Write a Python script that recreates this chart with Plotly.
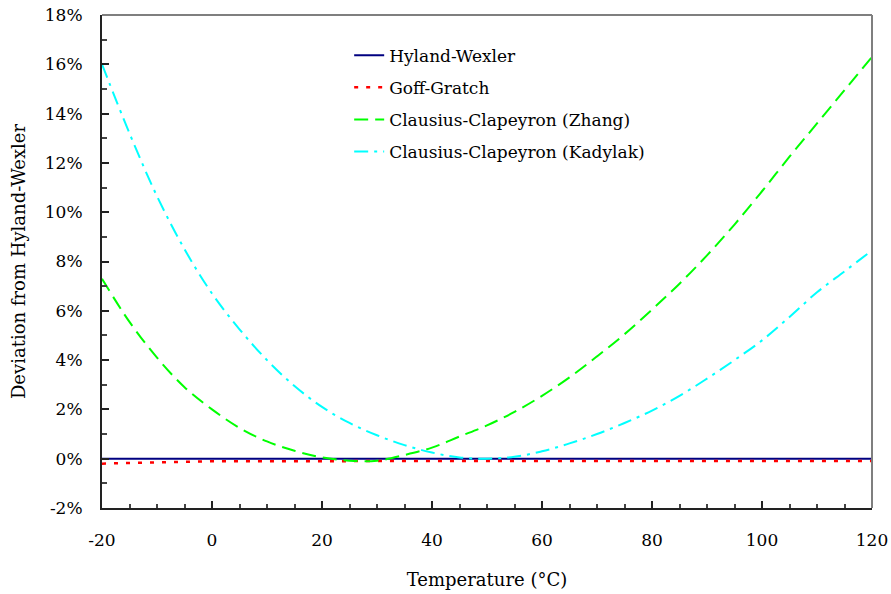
import plotly.graph_objects as go

temps = [-20, -15, -10, -5, 0, 5, 10, 15, 20, 25, 30, 35, 40, 45, 50, 55, 60,
         65, 70, 75, 80, 85, 90, 95, 100, 105, 110, 115, 120]

hyland_wexler = [0.0] * len(temps)

goff_gratch = [-0.20, -0.17, -0.14, -0.11, -0.10, -0.10, -0.10, -0.10, -0.10,
               -0.10, -0.10, -0.10, -0.10, -0.10, -0.10, -0.10, -0.10, -0.10,
               -0.10, -0.10, -0.10, -0.10, -0.10, -0.10, -0.10, -0.10, -0.10,
               -0.10, -0.09]

cc_zhang = [7.3, 5.55, 4.1, 2.9, 2.0, 1.25, 0.7, 0.32, 0.05, -0.08, -0.08,
            0.15, 0.45, 0.9, 1.35, 1.9, 2.55, 3.3, 4.15, 5.05, 6.05, 7.1,
            8.25, 9.5, 10.85, 12.25, 13.6, 14.95, 16.3]

cc_kadylak = [16.0, 13.2, 10.65, 8.5, 6.7, 5.25, 4.0, 2.95, 2.1, 1.45, 0.95,
              0.55, 0.25, 0.05, 0.0, 0.08, 0.3, 0.62, 1.0, 1.45, 1.95, 2.55,
              3.25, 4.0, 4.8, 5.75, 6.75, 7.6, 8.45]

x_tick_vals = [-20, 0, 20, 40, 60, 80, 100, 120]
x_tick_text = ["-20", "0", "20", "40", "60", "80", "100", "120"]
y_tick_vals = [-2, 0, 2, 4, 6, 8, 10, 12, 14, 16, 18]
y_tick_text = ["-2%", "0%", "2%", "4%", "6%", "8%", "10%", "12%", "14%", "16%", "18%"]

FONT = "DejaVu Serif"

fig = go.Figure()
fig.add_trace(go.Scatter(x=temps, y=hyland_wexler, mode="lines",
                         name="Hyland-Wexler", legendgroup="a",
                         line=dict(color="#000080", width=2)))
fig.add_trace(go.Scatter(x=temps, y=goff_gratch, mode="lines",
                         name="Goff-Gratch", legendgroup="b",
                         line=dict(color="#ff0000", width=2.5, dash="4px,8px")))
fig.add_trace(go.Scatter(x=temps, y=cc_zhang, mode="lines",
                         name="Clausius-Clapeyron (Zhang)", legendgroup="c",
                         line=dict(color="#00ff00", width=2, dash="14px,7px", shape="spline")))
fig.add_trace(go.Scatter(x=temps, y=cc_kadylak, mode="lines",
                         name="Clausius-Clapeyron (Kadylak)", legendgroup="d",
                         line=dict(color="#00ffff", width=2, dash="14px,6px,3px,6px", shape="spline")))

fig.update_layout(
    width=891, height=594,
    margin=dict(l=102, r=19, t=15, b=86),
    paper_bgcolor="white", plot_bgcolor="white",
    font=dict(family=FONT, size=17, color="#000000"),
    showlegend=True,
    legend=dict(x=0.321, y=0.954, xanchor="left", yanchor="top",
                bgcolor="rgba(0,0,0,0)", borderwidth=0,
                font=dict(family=FONT, size=17, color="#000000"),
                tracegroupgap=7),
    xaxis=dict(range=[-20, 120], tickmode="array", tickvals=x_tick_vals,
               ticktext=x_tick_text, automargin=False,
               showgrid=False, zeroline=False,
               showline=True, linecolor="#222222", linewidth=2,
               ticks="inside", ticklen=7, tickwidth=1.5, tickcolor="#222222",
               minor=dict(dtick=5, tick0=0, ticks="inside", ticklen=4, tickwidth=1.5,
                          tickcolor="#444444", showgrid=False),
               ticklabelstandoff=16,
               tickfont=dict(family=FONT, size=17),
               title=dict(text="Temperature (°C)", font=dict(family=FONT, size=18),
                          standoff=24)),
    yaxis=dict(range=[-2, 18], tickmode="array", tickvals=y_tick_vals,
               ticktext=y_tick_text, automargin=False,
               showgrid=False, zeroline=False,
               showline=True, linecolor="#222222", linewidth=2,
               ticks="inside", ticklen=7, tickwidth=1.5, tickcolor="#222222",
               minor=dict(dtick=1, tick0=0, ticks="inside", ticklen=5, tickwidth=1.5,
                          tickcolor="#444444", showgrid=False),
               ticklabelstandoff=14,
               tickfont=dict(family=FONT, size=17),
               title=dict(text="Deviation from Hyland-Wexler", font=dict(family=FONT, size=18),
                          standoff=15)),
    shapes=[
        dict(type="line", xref="paper", yref="paper", x0=0, x1=1, y0=1, y1=1,
             line=dict(color="#7f7f7f", width=2)),
        dict(type="line", xref="paper", yref="paper", x0=1, x1=1, y0=0, y1=1,
             line=dict(color="#7f7f7f", width=2)),
    ],
)

fig.write_html("out.html")
